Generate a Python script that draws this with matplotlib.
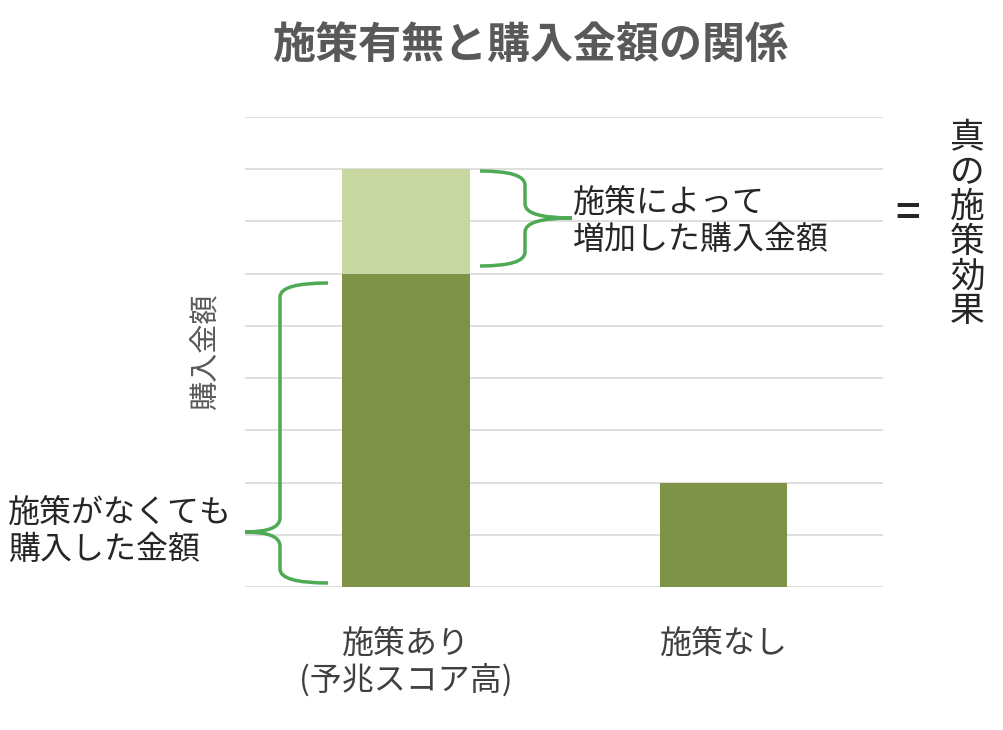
import matplotlib
matplotlib.use("Agg")
import matplotlib.pyplot as plt
from matplotlib.path import Path
from matplotlib.patches import PathPatch

plt.rcParams['font.family'] = ['Noto Sans CJK JP', 'DejaVu Sans']

categories = ['施策あり\n(予兆スコア高)', '施策なし']
base_values = [6, 2]
effect_values = [2, 0]

W, H = 1004, 730
fig = plt.figure(figsize=(W / 100, H / 100), dpi=100)
ax = fig.add_axes([245 / W, (H - 587) / H, (883 - 245) / W, (587 - 117) / H])

x = range(len(categories))
ax.bar(x, base_values, width=0.4, color='#7E9248', zorder=3)
ax.bar(x, effect_values, width=0.4, bottom=base_values, color='#C8D6A2', zorder=3)
ax.set_xlim(-0.507, 1.502)
ax.set_ylim(0, 9)
ax.set_yticks(range(0, 10))
ax.set_yticklabels([])
ax.yaxis.grid(True, color='#D9D9D9', linewidth=1.2, zorder=0)
ax.set_xticks(list(x))
ax.set_xticklabels(categories, fontsize=23, color='#404040', linespacing=1.1)
ax.tick_params(length=0, pad=30)
for s in ax.spines.values():
    s.set_visible(False)


def px(p):
    return (p[0] / W, 1 - p[1] / H)


def brace(x_arm, x_sp, x_tip, y0, y1, ym, r=14):
    pts = [(x_arm, y0), (x_sp, y0), (x_sp, y0 + r),
           (x_sp, ym - r), (x_sp, ym), (x_tip, ym),
           (x_sp, ym), (x_sp, ym + r),
           (x_sp, y1 - r), (x_sp, y1), (x_arm, y1)]
    codes = [Path.MOVETO, Path.CURVE3, Path.CURVE3,
             Path.LINETO, Path.CURVE3, Path.CURVE3,
             Path.CURVE3, Path.CURVE3,
             Path.LINETO, Path.CURVE3, Path.CURVE3]
    path = Path([px(p) for p in pts], codes)
    fig.add_artist(PathPatch(path, transform=fig.transFigure, fill=False,
                             edgecolor='#4EAA55', linewidth=2.5))


brace(480, 525, 572, 171, 266, 218)
brace(328, 280, 245, 283, 583, 532)

fig.text(530 / W, 1 - 45 / H, '施策有無と購入金額の関係', ha='center', va='center',
         fontsize=31, fontweight='bold', color='#595959')
fig.text(573 / W, 1 - 222 / H, '施策によって\n増加した購入金額', ha='left', va='center',
         fontsize=23, color='#262626', linespacing=1.15)
fig.text(8 / W, 1 - 532 / H, '施策がなくても\n購入した金額', ha='left', va='center',
         fontsize=23, color='#262626', linespacing=1.15)
fig.text(908 / W, 1 - 214 / H, '=', ha='center', va='center', fontsize=30,
         fontweight='bold', color='#262626')
fig.text(967 / W, 1 - 225 / H, '\n'.join('真の施策効果'), ha='center', va='center',
         fontsize=25, color='#262626', linespacing=0.98)
fig.text(207 / W, 1 - 352 / H, '購入金額', rotation=90, ha='center', va='center',
         fontsize=21, color='#595959')

fig.savefig('out.png', dpi=100)
